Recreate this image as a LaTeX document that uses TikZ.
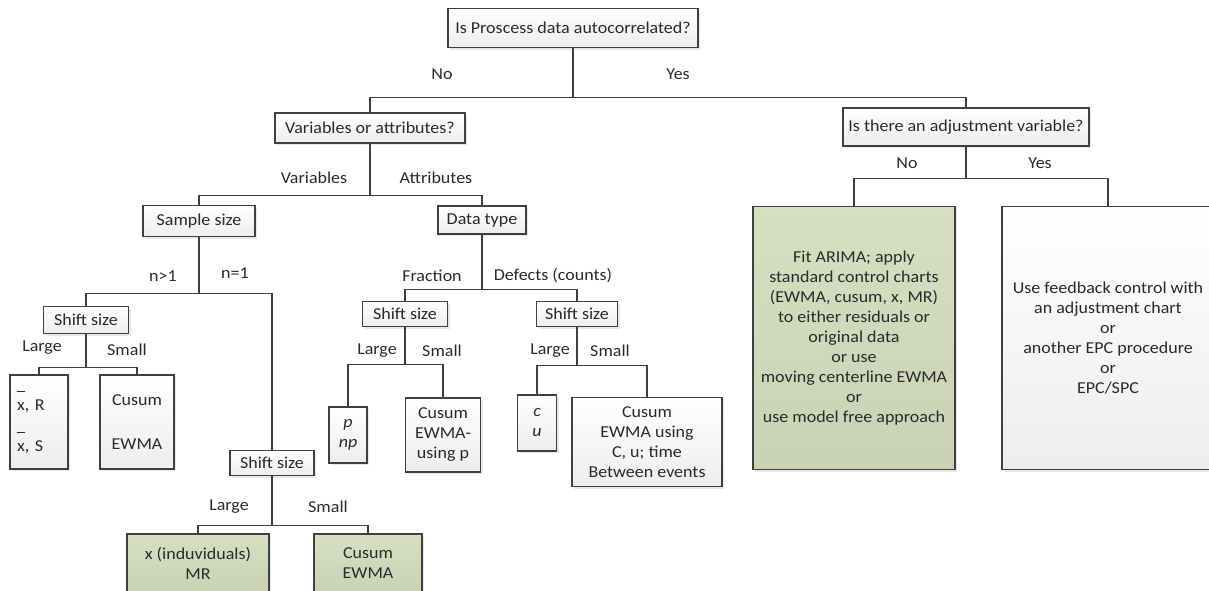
\documentclass[tikz,border=0pt]{standalone}
\usepackage{fontspec}
\setmainfont{Carlito}[FakeStretch=1.08]
\usetikzlibrary{shadows}
\definecolor{spcGris}{HTML}{404040}
\definecolor{spcTexto}{HTML}{2A2A2A}
\definecolor{spcVerde}{HTML}{D7DFC1}
\newlength{\px}
\setlength{\px}{0.75pt}
\tikzset{
  cuadro/.style={rectangle, draw=spcGris, line width=1pt, top color=white,
    bottom color=black!7, align=center, inner sep=2pt, text=spcTexto,
    font=\fontsize{12.5}{15}\selectfont,
    drop shadow={shadow xshift=1.5pt, shadow yshift=-1.5pt, opacity=0.18}},
  cuadroVerde/.style={cuadro, top color=spcVerde, bottom color=spcVerde!94!black},
  rama/.style={inner sep=0pt, text=spcTexto, font=\fontsize{12.5}{15}\selectfont},
  linea/.style={draw=spcGris, line width=1pt},
}
\newcommand{\xbarra}{\makebox[0pt][l]{\raisebox{14pt}{\rule{0.45em}{0.6pt}}}x}
\newcommand{\xbarraBaja}{\makebox[0pt][l]{\smash{\raisebox{14pt}{\rule{0.45em}{0.6pt}}}}x}

\begin{document}
\begin{tikzpicture}[x=0.75pt, y=-0.75pt]
    \useasboundingbox (0,0) rectangle (1209,590);
    \clip (0,0) rectangle (1209,590);
    \node[cuadro, minimum width=250\px, minimum height=39\px] (auto) at (573,28) {Is Proscess data autocorrelated?};
    \node[cuadro, minimum width=190\px, minimum height=30\px] (vars) at (370,128) {Variables or attributes?};
    \node[cuadro, minimum width=246\px, minimum height=38\px] (ajuste) at (966,127) {Is there an adjustment variable?};
    \node[cuadro, minimum width=112\px, minimum height=31\px] (muestra) at (199,221) {Sample size};
    \node[cuadro, minimum width=88\px, minimum height=28\px] (tipo) at (482,220) {Data type};
    \node[cuadro, minimum width=85\px, minimum height=27\px] (shiftA) at (86,320) {Shift size};
    \node[cuadro, minimum width=85\px, minimum height=25\px] (shiftF) at (405,314) {Shift size};
    \node[cuadro, minimum width=81\px, minimum height=25\px] (shiftD) at (577,314) {Shift size};
    \node[cuadro, minimum width=84\px, minimum height=25\px] (shiftC) at (272,463) {Shift size};
    \node[cuadro, minimum width=56\px, minimum height=94\px, text width=33pt, inner xsep=5.25pt, align=left] (xbar) at (39,422) {\xbarra, R\\[16pt]\xbarraBaja, S};
    \node[cuadro, minimum width=74\px, minimum height=94\px] (cusumA) at (137,422) {Cusum\\[18pt]EWMA};
    \node[cuadro, minimum width=38\px, minimum height=56\px] (pnp) at (348,435) {\textit{p}\\\textit{np}};
    \node[cuadro, minimum width=75\px, minimum height=74\px] (cusumF) at (443,435) {Cusum\\EWMA-\\using p};
    \node[cuadro, minimum width=39\px, minimum height=56\px] (cu) at (537,423) {\textit{c}\\\textit{u}};
    \node[cuadro, minimum width=150\px, minimum height=89\px] (cusumD) at (647,442) {Cusum\\EWMA using\\C, u; time\\Between events};
    \node[cuadroVerde, minimum width=142\px, minimum height=58\px] (indiv) at (198,563) {x (induviduals)\\MR};
    \node[cuadroVerde, minimum width=108\px, minimum height=58\px] (cusumC) at (368,563) {Cusum\\EWMA};
    \node[cuadroVerde, minimum width=202\px, minimum height=263\px] (arima) at (854,338) {Fit ARIMA; apply\\standard control charts\\(EWMA, cusum, x, MR)\\to either residuals or\\original data\\or use\\moving centerline EWMA\\or\\use model free approach};
    \node[cuadro, minimum width=212\px, minimum height=263\px] (feedback) at (1108,338) {Use feedback control with\\an adjustment chart\\or\\another EPC procedure\\or\\EPC/SPC};
    \node[rama] (lNo) at (442,74) {No};
    \node[rama] (lYes) at (678,74) {Yes};
    \node[rama] (lVar) at (314,178) {Variables};
    \node[rama] (lAtr) at (436,178) {Attributes};
    \node[rama] (lNo2) at (907,163) {No};
    \node[rama] (lYes2) at (1040,163) {Yes};
    \node[rama] (lMas) at (163,276) {n>1};
    \node[rama] (lUno) at (235,273) {n=1};
    \node[rama] (lFrac) at (432,276) {Fraction};
    \node[rama] (lDef) at (553,276) {Defects (counts)};
    \node[rama] (lLargeA) at (42,348) {Large};
    \node[rama] (lSmallA) at (127,350) {Small};
    \node[rama] (lLargeF) at (377,351) {Large};
    \node[rama] (lSmallF) at (442,351) {Small};
    \node[rama] (lLargeD) at (550,351) {Large};
    \node[rama] (lSmallD) at (610,351) {Small};
    \node[rama] (lLargeC) at (229,507) {Large};
    \node[rama] (lSmallC) at (328,507) {Small};
    \draw[linea] (auto.south) -- ++(0,49) coordinate (j1);
    \draw[linea] (vars.north) |- (j1) -| (ajuste.north);
    \draw[linea] (vars.south) -- ++(0,52) coordinate (j2);
    \draw[linea] (muestra.north) |- (j2) -| (tipo.north);
    \draw[linea] (ajuste.south) -- ++(0,32) coordinate (j3);
    \draw[linea] (arima.north) |- (j3) -| (feedback.north);
    \draw[linea] (muestra.south) -- ++(0,56) coordinate (j4);
    \draw[linea] (shiftA.north) |- (j4) -| (shiftC.north);
    \draw[linea] (shiftA.south) -- ++(0,33) coordinate (j5);
    \draw[linea] (xbar.north) |- (j5) -| (cusumA.north);
    \draw[linea] (shiftC.south) -- ++(0,49) coordinate (j6);
    \draw[linea] (indiv.north) |- (j6) -| (cusumC.north);
    \draw[linea] (tipo.south) -- ++(0,55) coordinate (j7);
    \draw[linea] (shiftF.north) |- (j7) -| (shiftD.north);
    \draw[linea] (shiftF.south) -- ++(0,37) coordinate (j8);
    \draw[linea] (pnp.north) |- (j8) -| (cusumF.north);
    \draw[linea] (shiftD.south) -- ++(0,38) coordinate (j9);
    \draw[linea] (cu.north) |- (j9) -| (cusumD.north);
  \end{tikzpicture}
\end{document}
